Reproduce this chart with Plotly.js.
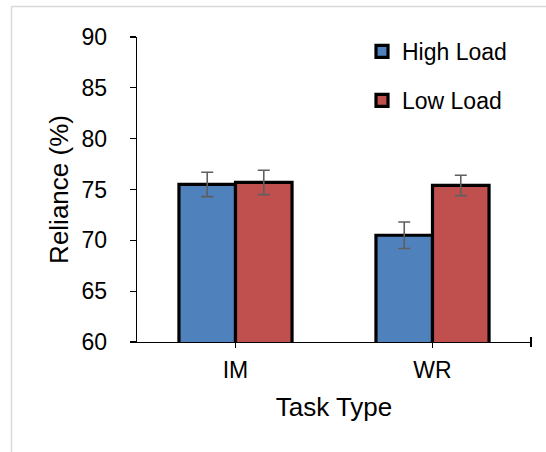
<!DOCTYPE html>
<html>
<head>
<meta charset="utf-8">
<script src="https://cdn.plot.ly/plotly-3.0.1.min.js"></script>
<style>
  html, body { margin: 0; padding: 0; background: #fff; }
  #chart { width: 546px; height: 452px; }
</style>
</head>
<body>
<div id="chart"></div>
<script>
// Reliance by task type under high and low load
const categories = ['IM', 'WR'];
const seriesNames = ['High Load', 'Low Load'];
const highLoad = [75.5, 70.5];
const lowLoad = [75.7, 75.4];
const highErr = [1.2, 1.3];
const lowErr = [1.2, 1.0];
const yTicks = [60, 65, 70, 75, 80, 85, 90];

const W = 546, H = 452;
const M = { l: 137, r: 15, t: 37, b: 110 };
const plotW = W - M.l - M.r;
const plotH = H - M.t - M.b;
const FONT = 'Arial, "Liberation Sans", sans-serif';

// convert page pixels to paper coordinates
const px = x => (x - M.l) / plotW;
const py = y => (H - M.b - y) / plotH;

function barTrace(name, values, errs, color, group) {
  return {
    type: 'bar',
    name: name,
    x: categories,
    y: values,
    legendgroup: group,
    marker: { color: color, line: { color: '#000000', width: 3.2 } },
    error_y: { type: 'data', array: errs, visible: true, color: '#5f5f5f', thickness: 1.6, width: 6 },
    hoverinfo: 'skip'
  };
}

const data = [
  barTrace(seriesNames[0], highLoad, highErr, '#4F81BD', 'g1'),
  barTrace(seriesNames[1], lowLoad, lowErr, '#C0504D', 'g2')
];

const layout = {
  width: W,
  height: H,
  margin: { l: M.l, r: M.r, t: M.t, b: M.b, pad: 0 },
  paper_bgcolor: '#ffffff',
  plot_bgcolor: '#ffffff',
  font: { family: FONT, color: '#000000' },
  barmode: 'group',
  bargap: 0.426,
  bargroupgap: 0,
  showlegend: true,
  legend: {
    x: px(362), y: py(30), xanchor: 'left', yanchor: 'top',
    font: { size: 23, family: FONT, color: '#000000' },
    bgcolor: 'rgba(0,0,0,0)',
    borderwidth: 0,
    tracegroupgap: 16,
    traceorder: 'grouped'
  },
  xaxis: {
    type: 'category',
    range: [-0.5, 1.5],
    showline: true, linecolor: '#000000', linewidth: 1.3,
    ticks: 'outside', ticklen: 5, tickwidth: 1.3, tickcolor: '#000000',
    tickfont: { size: 23, family: FONT, color: '#000000' },
    ticklabelstandoff: 2,
    showgrid: false, zeroline: false,
    title: { text: 'Task Type', font: { size: 26, family: FONT, color: '#000000' }, standoff: 16 }
  },
  yaxis: {
    range: [60, 90],
    tickvals: yTicks,
    ticktext: yTicks.map(String),
    showline: true, linecolor: '#000000', linewidth: 1.3,
    ticks: 'outside', ticklen: 6, tickwidth: 1.3, tickcolor: '#000000',
    tickfont: { size: 23, family: FONT, color: '#000000' },
    ticklabelstandoff: 18,
    showgrid: false, zeroline: false,
    title: { text: 'Reliance (%)', font: { size: 26, family: FONT, color: '#000000' }, standoff: 5 }
  },
  shapes: [
    // light frame along the top and left edges
    { type: 'line', xref: 'paper', yref: 'paper', x0: px(11.5), x1: px(W), y0: py(6.5), y1: py(6.5),
      line: { color: '#d9d9d9', width: 1.5 } },
    { type: 'line', xref: 'paper', yref: 'paper', x0: px(11.5), x1: px(11.5), y0: py(6.5), y1: py(H),
      line: { color: '#d9d9d9', width: 1.5 } },
    // end tick across the category axis
    { type: 'line', xref: 'paper', yref: 'paper', x0: 1, x1: 1, y0: py(H - M.b - 5), y1: py(H - M.b + 5),
      line: { color: '#000000', width: 2 } }
  ]
};

Plotly.newPlot('chart', data, layout, { staticPlot: true, displayModeBar: false });
</script>
</body>
</html>
